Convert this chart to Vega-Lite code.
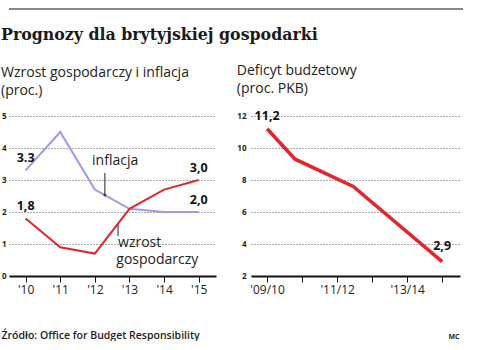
{
  "$schema": "https://vega.github.io/schema/vega-lite/v6.json",
  "background": "white",
  "padding": {"left": 1, "top": 8, "right": 0, "bottom": 0},
  "spacing": 17,
  "config": {
    "view": {"stroke": null},
    "font": "Open Sans",
    "axis": {"labelFont": "Open Sans", "titleFont": "Open Sans", "labelColor": "#222", "titleColor": "#222", "labelOverlap": false},
    "axisY": {"grid": true, "gridDash": [1, 2], "gridColor": "#555", "gridWidth": 1, "gridOpacity": 1, "ticks": false, "domain": false, "labelFontSize": 8, "labelFontWeight": "bold", "title": null},
    "axisX": {"grid": false, "ticks": true, "tickColor": "#111", "tickSize": 6, "tickWidth": 1, "domain": true, "domainColor": "#111", "domainWidth": 2, "labelFontSize": 12, "labelPadding": 2, "labelFlush": false, "titleAnchor": "start", "titleAlign": "left", "titleBaseline": "alphabetic"}
  },
  "vconcat": [
    {
      "width": 454,
      "height": 2,
      "data": {"values": [{"line": "top"}]},
      "mark": {"type": "rect", "color": "#888"},
      "encoding": {}
    },
    {
      "title": {"text": "Prognozy dla brytyjskiej gospodarki", "anchor": "start", "frame": "bounds", "font": "DejaVu Serif", "fontSize": 15.8, "fontWeight": "bold", "color": "#1a1a1a", "offset": 20},
      "spacing": 20,
      "hconcat": [
        {
          "width": 207,
          "height": 160,
          "title": {"text": ["Wzrost gospodarczy i inflacja", "(proc.)"], "anchor": "start", "frame": "bounds", "font": "Open Sans", "fontSize": 14, "fontWeight": "normal", "color": "#222", "offset": 14, "lineHeight": 18},
          "encoding": {
            "x": {"field": "x", "type": "quantitative",
              "scale": {"domain": [2009.52, 2015.5], "nice": false, "zero": false},
              "axis": {"values": [2010, 2011, 2012, 2013, 2014, 2015], "labelExpr": "\"'\" + substring(toString(datum.value), 2)",
                "title": "Źródło: Office for Budget Responsibility", "titleX": -8, "titleY": 62, "titleFontSize": 10.5, "titleFontWeight": 600}},
            "y": {"field": "y", "type": "quantitative",
              "scale": {"domain": [0, 5], "nice": false},
              "axis": {"values": [0, 1, 2, 3, 4, 5], "labelPadding": 3}}
          },
          "layer": [
            {
              "data": {"values": [
                {"x": 2010, "y": 3.3, "series": "inflacja"},
                {"x": 2011, "y": 4.5, "series": "inflacja"},
                {"x": 2012, "y": 2.7, "series": "inflacja"},
                {"x": 2013, "y": 2.1, "series": "inflacja"},
                {"x": 2014, "y": 2.0, "series": "inflacja"},
                {"x": 2015, "y": 2.0, "series": "inflacja"},
                {"x": 2010, "y": 1.8, "series": "wzrost gospodarczy"},
                {"x": 2011, "y": 0.9, "series": "wzrost gospodarczy"},
                {"x": 2012, "y": 0.7, "series": "wzrost gospodarczy"},
                {"x": 2013, "y": 2.1, "series": "wzrost gospodarczy"},
                {"x": 2014, "y": 2.7, "series": "wzrost gospodarczy"},
                {"x": 2015, "y": 3.0, "series": "wzrost gospodarczy"}
              ]},
              "mark": {"type": "line", "strokeWidth": 2},
              "encoding": {
                "color": {"field": "series", "type": "nominal", "scale": {"domain": ["inflacja", "wzrost gospodarczy"], "range": ["#9d9aee", "#e3262b"]}, "legend": null}
              }
            },
            {
              "data": {"values": [
                {"x": 2010, "y": 3.3, "t": "3.3"},
                {"x": 2010, "y": 1.8, "t": "1,8"},
                {"x": 2015, "y": 3.0, "t": "3,0"},
                {"x": 2015, "y": 2.0, "t": "2,0"}
              ]},
              "mark": {"type": "text", "fontWeight": "bold", "fontSize": 12.5, "dy": -8, "baseline": "alphabetic", "align": "center", "color": "#111"},
              "encoding": {"text": {"field": "t"}}
            },
            {
              "data": {"values": [
                {"x": 2012.29, "y": 2.53, "y2": 3.22},
                {"x": 2012.67, "y": 1.25, "y2": 1.6}
              ]},
              "mark": {"type": "rule", "color": "#222", "strokeWidth": 1},
              "encoding": {"y2": {"field": "y2"}}
            },
            {
              "data": {"values": [{"x": 2012.29, "y": 2.53}]},
              "mark": {"type": "point", "shape": "circle", "size": 10, "filled": true, "color": "#222"}
            },
            {
              "data": {"values": [
                {"x": 2011.92, "y": 3.47, "t": "inflacja"},
                {"x": 2012.67, "y": 0.92, "t": "wzrost"},
                {"x": 2012.62, "y": 0.38, "t": "gospodarczy"}
              ]},
              "mark": {"type": "text", "fontSize": 14, "align": "left", "baseline": "alphabetic", "color": "#222"},
              "encoding": {"text": {"field": "t"}}
            }
          ]
        },
        {
          "width": 209,
          "height": 160,
          "title": {"text": ["Deficyt budżetowy", "(proc. PKB)"], "anchor": "start", "frame": "bounds", "font": "Open Sans", "fontSize": 14, "fontWeight": "normal", "color": "#222", "offset": 14, "lineHeight": 18},
          "encoding": {
            "x": {"field": "t", "type": "quantitative",
              "scale": {"domain": [-0.46, 5.51], "nice": false, "zero": false},
              "axis": {"values": [0, 1, 2, 3, 4, 5], "labelExpr": "datum.value == 0 ? \"'09/10\" : datum.value == 2 ? \"'11/12\" : datum.value == 4 ? \"'13/14\" : ''",
                "title": "MC", "titleX": 197, "titleY": 62, "titleFontSize": 7, "titleFontWeight": "bold"}},
            "y": {"field": "value", "type": "quantitative",
              "scale": {"domain": [2, 12], "nice": false, "zero": false},
              "axis": {"values": [2, 4, 6, 8, 10, 12], "labelPadding": 5}}
          },
          "layer": [
            {
              "data": {"values": [
                {"t": 0, "value": 11.2},
                {"t": 0.8, "value": 9.3},
                {"t": 2.46, "value": 7.6},
                {"t": 5, "value": 2.9}
              ]},
              "mark": {"type": "line", "strokeWidth": 3.5, "color": "#e3262b"}
            },
            {
              "data": {"values": [
                {"t": 0, "value": 11.2, "lab": "11,2"}
              ]},
              "mark": {"type": "text", "fontWeight": "bold", "fontSize": 12.5, "dy": -9, "baseline": "alphabetic", "align": "center", "color": "#111"},
              "encoding": {"text": {"field": "lab"}}
            },
            {
              "data": {"values": [
                {"t": 5, "value": 2.9, "lab": "2,9"}
              ]},
              "mark": {"type": "text", "fontWeight": "bold", "fontSize": 12.5, "dy": -12, "baseline": "alphabetic", "align": "center", "color": "#111"},
              "encoding": {"text": {"field": "lab"}}
            }
          ]
        }
      ]
    }
  ]
}
